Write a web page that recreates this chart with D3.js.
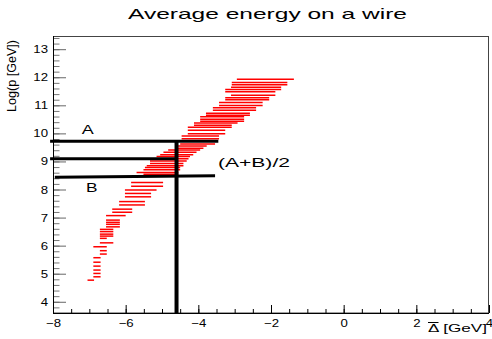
<!DOCTYPE html>
<html>
<head>
<meta charset="utf-8">
<script src="https://cdn.jsdelivr.net/npm/d3@7"></script>
<style>
  body { margin: 0; background: #fff; }
  svg { display: block; }
  text { font-family: "Liberation Sans", Arial, Helvetica, sans-serif; fill: #000; }
</style>
</head>
<body>
<svg id="chart" width="492" height="339"></svg>
<script>
// one horizontal bar per row: y of the row, left and right end in x
const rowY = [11.93, 11.81, 11.73, 11.64, 11.56, 11.48, 11.36, 11.27, 11.20, 11.10,
  10.99, 10.91, 10.82, 10.72, 10.65, 10.59, 10.50, 10.43, 10.37, 10.29,
  10.22, 10.11, 9.99, 9.91, 9.81, 9.72, 9.62, 9.55, 9.47, 9.41,
  9.33, 9.24, 9.18, 9.10, 9.02, 8.93, 8.85, 8.78, 8.70, 8.61,
  8.54, 8.25, 8.12, 7.98, 7.86, 7.74, 7.57, 7.45, 7.30, 7.19,
  7.07, 6.91, 6.83, 6.76, 6.67, 6.58, 6.50, 6.41, 6.34, 6.26,
  6.10, 5.96, 5.82, 5.70, 5.57, 5.41, 5.27, 5.13, 5.01, 4.89, 4.77];
const rowXLow = [-2.94, -3.08, -3.08, -3.10, -3.26, -3.26, -3.10, -3.26, -3.26, -3.43,
  -3.43, -3.60, -3.60, -3.79, -3.79, -3.95, -3.95, -3.95, -4.12, -4.12,
  -4.29, -4.29, -4.29, -4.46, -4.46, -4.48, -4.50, -4.60, -4.64, -4.83,
  -4.96, -5.05, -5.15, -5.24, -5.33, -5.33, -5.42, -5.47, -5.51, -5.70,
  -5.51, -5.85, -5.85, -6.02, -6.02, -6.02, -6.18, -6.18, -6.37, -6.37,
  -6.54, -6.54, -6.54, -6.54, -6.54, -6.71, -6.71, -6.71, -6.71, -6.71,
  -6.71, -6.89, -6.71, -6.71, -6.89, -6.89, -6.89, -6.89, -6.89, -6.89, -7.05];
const rowXHigh = [-1.37, -1.55, -1.55, -1.72, -1.72, -1.88, -1.88, -2.05, -2.05, -2.23,
  -2.23, -2.41, -2.41, -2.58, -2.58, -2.74, -2.74, -2.74, -2.92, -3.08,
  -3.08, -3.26, -3.26, -3.43, -3.43, -3.48, -3.54, -3.77, -3.86, -3.95,
  -4.05, -4.14, -4.23, -4.27, -4.32, -4.41, -4.41, -4.50, -4.50, -4.55,
  -4.55, -4.97, -4.97, -5.15, -5.30, -5.30, -5.47, -5.47, -5.82, -5.82,
  -6.00, -6.16, -6.16, -6.16, -6.16, -6.34, -6.34, -6.34, -6.34, -6.52,
  -6.34, -6.52, -6.52, -6.52, -6.69, -6.69, -6.69, -6.69, -6.69, -6.69, -6.87];

// black guide lines: [x1, y1, x2, y2]
const guideA = [-8.08, 9.72, -3.45, 9.72];
const guideMid = [-8.08, 9.10, -4.60, 9.10];
const guideB = [-7.95, 8.44, -3.54, 8.49];
const guideV = [-4.60, 9.72, -4.60, 3.6];

const xMajor = [-8, -6, -4, -2, 0, 2, 4];
const xMinor = d3.range(-8, 4.01, 0.5);
const yMajor = [4, 5, 6, 7, 8, 9, 10, 11, 12, 13];
const yMinor = d3.range(3.6, 13.47, 0.2);

const svg = d3.select('#chart');
const x = d3.scaleLinear().domain([-8, 4]).range([53, 489]);
const y = d3.scaleLinear().domain([3.6, 13.47]).range([313, 36]);

// stretch text horizontally like the reference rendering
function fitWidth(sel, k) {
  sel.each(function () {
    const w = this.getComputedTextLength();
    this.setAttribute('textLength', w * k);
    this.setAttribute('lengthAdjust', 'spacingAndGlyphs');
  });
}

svg.append('rect')
  .attr('x', 53.5).attr('y', 36.5)
  .attr('width', 435).attr('height', 276.5)
  .attr('fill', 'none').attr('stroke', '#444').attr('stroke-width', 1);

// red bars
svg.append('g').selectAll('line')
  .data(rowY.map((v, i) => ({ y: v, lo: rowXLow[i], hi: rowXHigh[i] })))
  .join('line')
  .attr('x1', d => x(d.lo))
  .attr('x2', d => x(d.hi))
  .attr('y1', d => y(d.y))
  .attr('y2', d => y(d.y))
  .attr('stroke', '#ff0000')
  .attr('stroke-width', 1.5);

// x axis
const gxMinor = svg.append('g').attr('transform', 'translate(0,313)')
  .call(d3.axisBottom(x).tickValues(xMinor).tickSize(-4).tickFormat(''));
const gx = svg.append('g').attr('transform', 'translate(0,313)')
  .call(d3.axisBottom(x).tickValues(xMajor).tickSize(-8).tickPadding(6));
svg.selectAll('.domain').remove();
gxMinor.selectAll('line').attr('stroke', '#000');
gx.selectAll('line').attr('stroke', '#000');
gx.selectAll('text').style('font-size', '11px').style('font-family', null);
fitWidth(gx.selectAll('text'), 1.2);

// y axis
const gyMinor = svg.append('g').attr('transform', 'translate(53,0)')
  .call(d3.axisLeft(y).tickValues(yMinor).tickSize(-6.5).tickFormat(''));
const gy = svg.append('g').attr('transform', 'translate(53,0)')
  .call(d3.axisLeft(y).tickValues(yMajor).tickSize(-13).tickPadding(5));
svg.selectAll('.domain').remove();
gyMinor.selectAll('line').attr('stroke', '#777');
gy.selectAll('line').attr('stroke', '#666');
gy.selectAll('text').style('font-size', '11px').style('font-family', null);
fitWidth(gy.selectAll('text'), 1.2);

svg.append('line')
  .attr('x1', 53.5).attr('x2', 53.5).attr('y1', 36).attr('y2', 313.5)
  .attr('stroke', '#000');
svg.append('line')
  .attr('x1', 53).attr('x2', 489).attr('y1', 313.5).attr('y2', 313.5)
  .attr('stroke', '#000');

// guide lines
const guides = svg.append('g').attr('stroke', '#000');
[[guideA, 3], [guideMid, 3], [guideB, 3], [guideV, 4]].forEach(([g, w]) => {
  guides.append('line')
    .attr('x1', x(g[0])).attr('y1', y(g[1]))
    .attr('x2', x(g[2])).attr('y2', y(g[3]))
    .attr('stroke-width', w);
});

// texts
svg.append('text')
  .attr('x', 128).attr('y', 19)
  .style('font-size', '15px')
  .attr('textLength', 279).attr('lengthAdjust', 'spacingAndGlyphs')
  .text('Average energy on a wire');

svg.append('text')
  .attr('transform', 'translate(16,40) rotate(-90)')
  .attr('text-anchor', 'end')
  .style('font-size', '12px')
  .attr('textLength', 72).attr('lengthAdjust', 'spacingAndGlyphs')
  .text('Log(p [GeV])');

const xt = svg.append('text')
  .attr('x', 487).attr('y', 332)
  .attr('text-anchor', 'end')
  .style('font-size', '11px')
  .attr('textLength', 59).attr('lengthAdjust', 'spacingAndGlyphs')
  .text('Δ [GeV]');
const xtNode = xt.node();
const d0 = xtNode.getStartPositionOfChar(0).x;
const d1 = xtNode.getEndPositionOfChar(0).x;
svg.append('line')
  .attr('x1', d0).attr('x2', d1).attr('y1', 322.5).attr('y2', 322.5)
  .attr('stroke', '#000').attr('stroke-width', 1);

svg.append('text')
  .attr('x', x(-7.04)).attr('y', y(9.98))
  .attr('text-anchor', 'middle')
  .style('font-size', '13px')
  .attr('textLength', 12).attr('lengthAdjust', 'spacingAndGlyphs')
  .text('A');
svg.append('text')
  .attr('x', x(-6.93)).attr('y', y(7.92))
  .attr('text-anchor', 'middle')
  .style('font-size', '13px')
  .attr('textLength', 11.5).attr('lengthAdjust', 'spacingAndGlyphs')
  .text('B');
svg.append('text')
  .attr('x', x(-3.46)).attr('y', y(8.82))
  .style('font-size', '13px')
  .attr('textLength', 72).attr('lengthAdjust', 'spacingAndGlyphs')
  .text('(A+B)/2');
</script>
</body>
</html>
